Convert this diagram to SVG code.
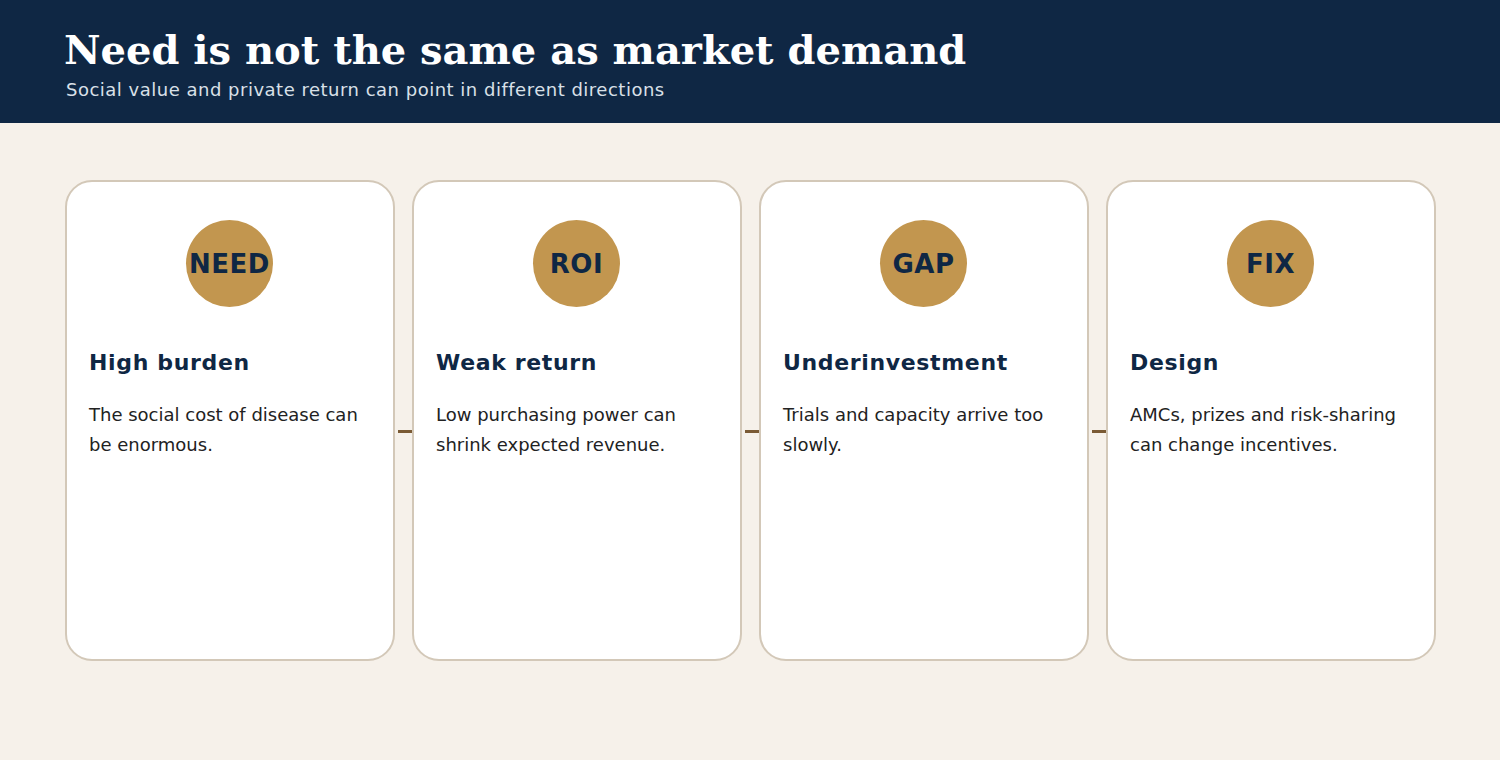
<svg xmlns="http://www.w3.org/2000/svg" width="1500" height="760" viewBox="0 0 1500 760">
<style>
.card{fill:#ffffff;stroke:#d3c8b8;stroke-width:2}
.badge{fill:#c2964f}
.btxt{font-family:"DejaVu Sans",sans-serif;font-weight:bold;font-size:26px;fill:#0f2744;text-anchor:middle;letter-spacing:0.5px}
.ttl{font-family:"DejaVu Sans",sans-serif;font-weight:bold;font-size:22px;fill:#0f2744;letter-spacing:0.65px}
.body{font-family:"DejaVu Sans",sans-serif;font-size:18px;fill:#222222}
.conn{stroke:#7a5a34;stroke-width:3}
</style>
<rect x="0" y="0" width="1500" height="760" fill="#f6f1ea"/>
<rect x="0" y="0" width="1500" height="123" fill="#0f2744"/>
<text x="64" y="64" font-family="DejaVu Serif,serif" font-weight="bold" font-size="40" fill="#ffffff">Need is not the same as market demand</text>
<text x="66" y="96" font-family="DejaVu Sans,sans-serif" font-size="18" letter-spacing="0.5" fill="#d9e0e8">Social value and private return can point in different directions</text>
<g id="connectors">
<line class="conn" x1="398" y1="431.5" x2="412" y2="431.5"/>
<line class="conn" x1="745" y1="431.5" x2="759" y2="431.5"/>
<line class="conn" x1="1092" y1="431.5" x2="1106" y2="431.5"/>
</g>
<g id="need">
<rect class="card" x="66" y="181" width="328" height="479" rx="26"/>
<circle class="badge" cx="229.5" cy="263.5" r="43.5"/>
<text class="btxt" x="229.5" y="273">NEED</text>
<text class="ttl" x="89" y="370">High burden</text>
<text class="body" x="89" y="421">The social cost of disease can</text>
<text class="body" x="89" y="451">be enormous.</text>
</g>
<g id="roi">
<rect class="card" x="413" y="181" width="328" height="479" rx="26"/>
<circle class="badge" cx="576.5" cy="263.5" r="43.5"/>
<text class="btxt" x="576.5" y="273">ROI</text>
<text class="ttl" x="436" y="370">Weak return</text>
<text class="body" x="436" y="421">Low purchasing power can</text>
<text class="body" x="436" y="451">shrink expected revenue.</text>
</g>
<g id="gap">
<rect class="card" x="760" y="181" width="328" height="479" rx="26"/>
<circle class="badge" cx="923.5" cy="263.5" r="43.5"/>
<text class="btxt" x="923.5" y="273">GAP</text>
<text class="ttl" x="783" y="370">Underinvestment</text>
<text class="body" x="783" y="421">Trials and capacity arrive too</text>
<text class="body" x="783" y="451">slowly.</text>
</g>
<g id="fix">
<rect class="card" x="1107" y="181" width="328" height="479" rx="26"/>
<circle class="badge" cx="1270.5" cy="263.5" r="43.5"/>
<text class="btxt" x="1270.5" y="273">FIX</text>
<text class="ttl" x="1130" y="370">Design</text>
<text class="body" x="1130" y="421">AMCs, prizes and risk-sharing</text>
<text class="body" x="1130" y="451">can change incentives.</text>
</g>
</svg>
